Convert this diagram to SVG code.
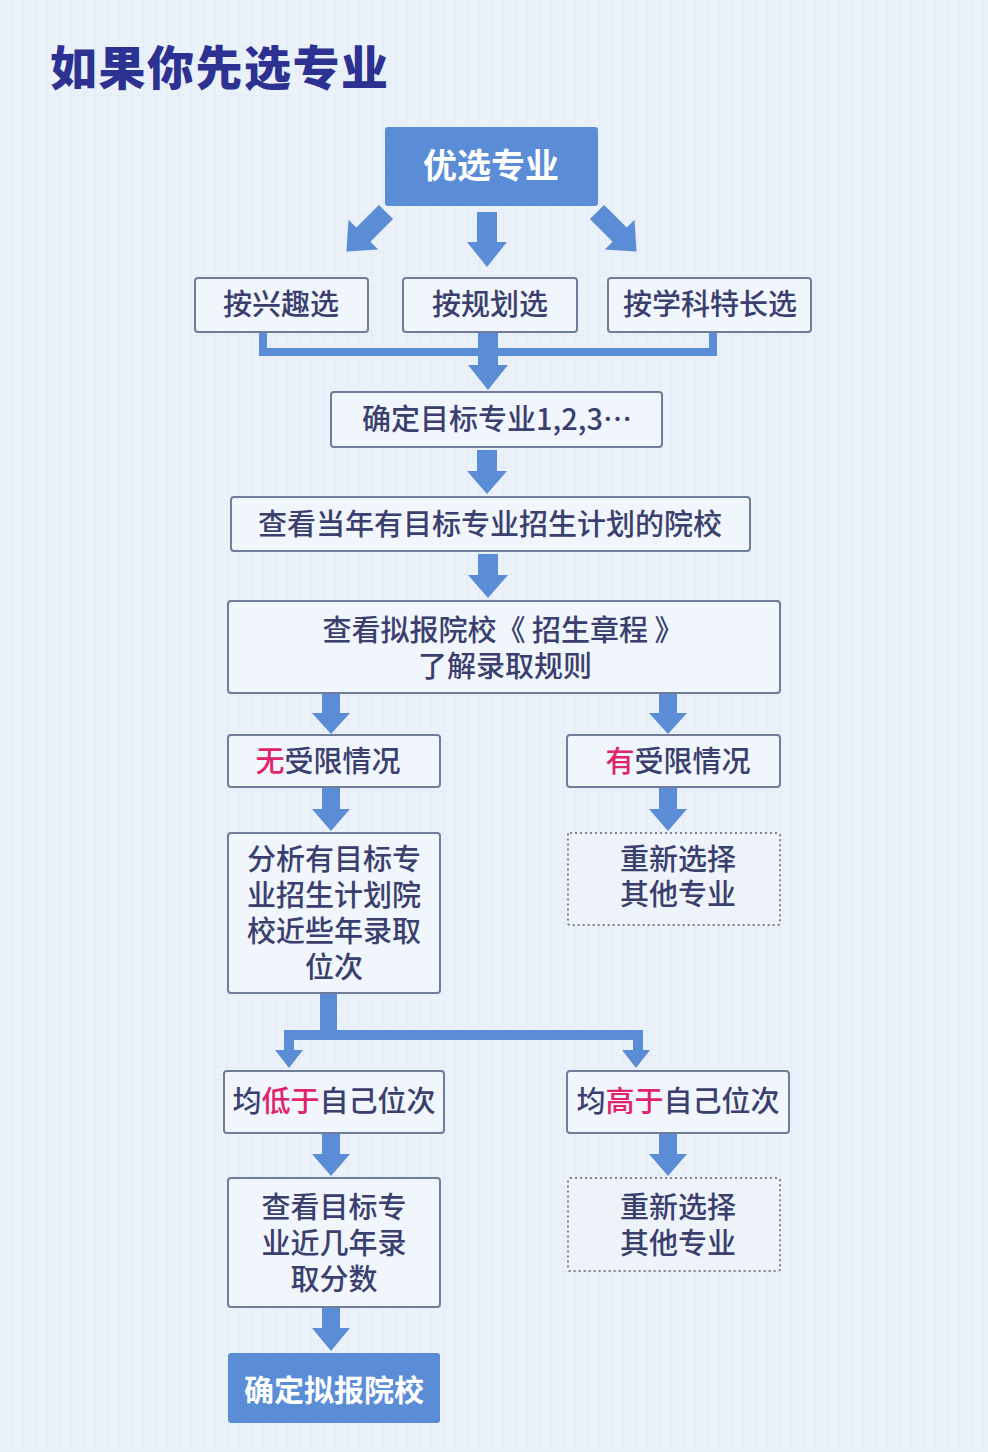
<svg xmlns="http://www.w3.org/2000/svg" width="988" height="1452" viewBox="0 0 988 1452">
<defs>
<pattern id="grid" width="12" height="12" patternUnits="userSpaceOnUse">
<path d="M12,0 V12 M0,12 H12" fill="none" stroke="#d9e3f1" stroke-width="1"/>
</pattern>
<style>
.t{font-family:"Noto Sans CJK SC","Noto Sans",sans-serif;font-weight:500;font-size:29px;fill:#3a3f6e;text-anchor:middle}
.w{font-family:"Noto Sans CJK SC","Noto Sans",sans-serif;font-weight:700;fill:#ffffff;text-anchor:middle}
.r{fill:#e0236a}
.box{fill:#f1f5fc;stroke:#6f7d9b;stroke-width:2}
.dot{fill:#eef3fa;stroke:#7d8294;stroke-width:2;stroke-dasharray:2 3}
.solid{fill:#5b8dd6}
.arr{fill:#5b8dd6}
.ln{fill:none;stroke:#5b8dd6}
</style>
</defs>
<rect width="988" height="1452" fill="#ebf1f9"/>
<rect width="988" height="1452" fill="url(#grid)" opacity="0.7"/>

<text x="50" y="85" style="font-family:'Noto Sans CJK SC',sans-serif;font-weight:900;font-size:47px;letter-spacing:1.5px;fill:#2c3192">如果你先选专业</text>

<g id="connectors">
<polygon class="arr" transform="translate(386,212) rotate(45)" points="-10,0 10,0 10,32 21,32 0,56 -21,32 -10,32"/>
<polygon class="arr" points="477,212 497,212 497,242 507,242 487,267 467,242 477,242"/>
<polygon class="arr" transform="translate(597,212) rotate(-45)" points="-10,0 10,0 10,32 21,32 0,56 -21,32 -10,32"/>
<path class="ln" stroke-width="8" d="M263,332 V352 H713 V332"/>
<polygon class="arr" points="478,332 498,332 498,365 508,365 488,390 468,365 478,365"/>
<polygon class="arr" points="477,450 497,450 497,471 507,471 487,494 467,471 477,471"/>
<polygon class="arr" points="478,554 498,554 498,575 508,575 488,598 468,575 478,575"/>
<polygon class="arr" points="322,693 340,693 340,713 350,713 331,734 312,713 322,713"/>
<polygon class="arr" points="659,693 677,693 677,713 687,713 668,734 649,713 659,713"/>
<polygon class="arr" points="322,787 340,787 340,809 350,809 331,831 312,809 322,809"/>
<polygon class="arr" points="659,787 677,787 677,809 687,809 668,831 649,809 659,809"/>
<rect class="solid" x="320" y="993" width="17" height="45"/>
<path class="ln" stroke-width="10" d="M289,1051 V1035 H638 V1051"/>
<polygon class="arr" points="275,1050 303,1050 289,1068"/>
<polygon class="arr" points="622,1050 650,1050 636,1068"/>
<polygon class="arr" points="322,1133 340,1133 340,1154 350,1154 331,1176 312,1154 322,1154"/>
<polygon class="arr" points="659,1133 677,1133 677,1154 687,1154 668,1176 649,1154 659,1154"/>
<polygon class="arr" points="322,1307 340,1307 340,1328 350,1328 331,1351 312,1328 322,1328"/>
</g>

<g id="n-youxuan">
<rect class="solid" x="385" y="127" width="213" height="79" rx="3"/>
<text class="w" x="491" y="178" font-size="34">优选专业</text>
</g>
<g id="n-xingqu">
<rect class="box" x="195" y="278" width="173" height="54" rx="3"/>
<text class="t" x="281" y="315">按兴趣选</text>
</g>
<g id="n-guihua">
<rect class="box" x="403" y="278" width="174" height="54" rx="3"/>
<text class="t" x="490" y="315">按规划选</text>
</g>
<g id="n-xueke">
<rect class="box" x="608" y="278" width="203" height="54" rx="3"/>
<text class="t" x="710" y="315">按学科特长选</text>
</g>
<g id="n-mubiao">
<rect class="box" x="331" y="392" width="331" height="55" rx="3"/>
<text class="t" x="497" y="430" font-size="30">确定目标专业1,2,3…</text>
</g>
<g id="n-dangnian">
<rect class="box" x="231" y="497" width="519" height="54" rx="3"/>
<text class="t" x="490" y="535" font-size="30">查看当年有目标专业招生计划的院校</text>
</g>
<g id="n-zhangcheng">
<rect class="box" x="228" y="601" width="552" height="92" rx="3"/>
<text class="t" x="503" y="641" font-size="30" xml:space="preserve">查看拟报院校《 招生章程 》</text>
<text class="t" x="505" y="677" font-size="30">了解录取规则</text>
</g>
<g id="n-wushouxian">
<rect class="box" x="228" y="735" width="212" height="52" rx="3"/>
<text class="t" x="328" y="772" font-size="30"><tspan class="r">无</tspan>受限情况</text>
</g>
<g id="n-youshouxian">
<rect class="box" x="567" y="735" width="213" height="52" rx="3"/>
<text class="t" x="678" y="772" font-size="30"><tspan class="r">有</tspan>受限情况</text>
</g>
<g id="n-fenxi">
<rect class="box" x="228" y="833" width="212" height="160" rx="3"/>
<text class="t" x="334" y="870" font-size="30">分析有目标专</text>
<text class="t" x="334" y="906" font-size="30">业招生计划院</text>
<text class="t" x="334" y="942" font-size="30">校近些年录取</text>
<text class="t" x="334" y="978" font-size="30">位次</text>
</g>
<g id="n-chongxin1">
<rect class="dot" x="568" y="833" width="212" height="92" rx="2"/>
<text class="t" x="678" y="870" font-size="30">重新选择</text>
<text class="t" x="678" y="905" font-size="30">其他专业</text>
</g>
<g id="n-diyu">
<rect class="box" x="224" y="1071" width="220" height="62" rx="3"/>
<text class="t" x="334" y="1112" font-size="30">均<tspan class="r">低于</tspan>自己位次</text>
</g>
<g id="n-gaoyu">
<rect class="box" x="567" y="1071" width="222" height="62" rx="3"/>
<text class="t" x="678" y="1112" font-size="30">均<tspan class="r">高于</tspan>自己位次</text>
</g>
<g id="n-fenshu">
<rect class="box" x="228" y="1178" width="212" height="129" rx="3"/>
<text class="t" x="334" y="1218" font-size="30">查看目标专</text>
<text class="t" x="334" y="1254" font-size="30">业近几年录</text>
<text class="t" x="334" y="1290" font-size="30">取分数</text>
</g>
<g id="n-chongxin2">
<rect class="dot" x="568" y="1178" width="212" height="93" rx="2"/>
<text class="t" x="678" y="1218" font-size="30">重新选择</text>
<text class="t" x="678" y="1254" font-size="30">其他专业</text>
</g>
<g id="n-queding">
<rect class="solid" x="228" y="1353" width="212" height="70" rx="3"/>
<text class="w" x="334" y="1401" font-size="30">确定拟报院校</text>
</g>
</svg>
